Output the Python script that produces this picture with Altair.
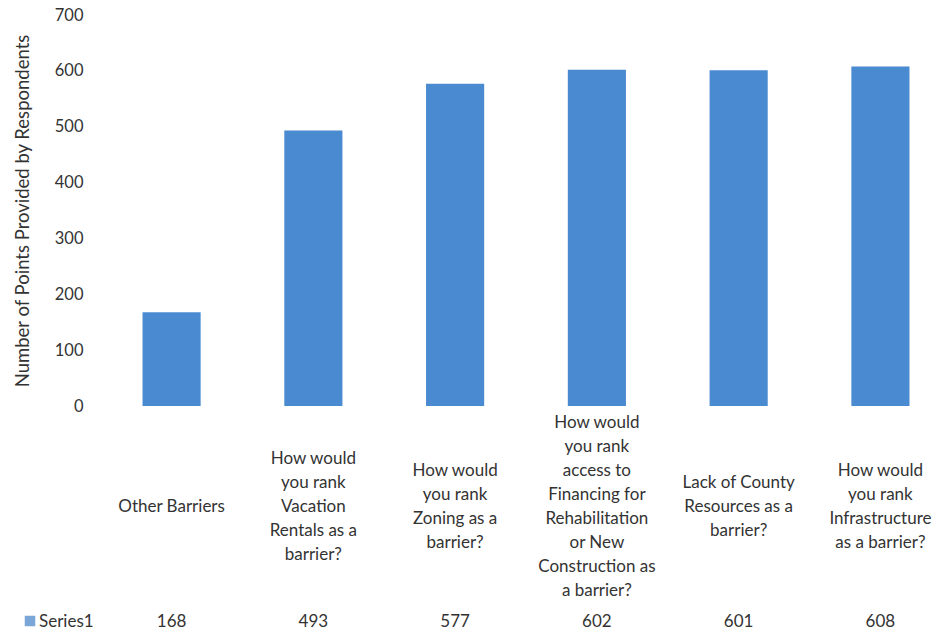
import altair as alt
import pandas as pd

categories = [
    "Other Barriers",
    "How would\nyou rank\nVacation\nRentals as a\nbarrier?",
    "How would\nyou rank\nZoning as a\nbarrier?",
    "How would\nyou rank\naccess to\nFinancing for\nRehabilitation\nor New\nConstruction as\na barrier?",
    "Lack of County\nResources as a\nbarrier?",
    "How would\nyou rank\nInfrastructure\nas a barrier?",
]
keys = ["c1", "c2", "c3", "c4", "c5", "c6"]
values = [168, 493, 577, 602, 601, 608]
series_name = "Series1"

df = pd.DataFrame({"key": keys, "label": categories, "value": values})

FONT = "Lato"
TXT = "#333333"
BAR = "#4a8ad0"
LH = 24

xscale = alt.Scale(domain=keys, paddingInner=0.59, paddingOuter=0.3)
x = alt.X("key:N", scale=xscale, axis=None, sort=keys)

bars = alt.Chart(df).mark_bar(color=BAR).encode(
    x=x,
    y=alt.Y(
        "value:Q",
        scale=alt.Scale(domain=[0, 700]),
        axis=alt.Axis(
            title="Number of Points  Provided by Respondents",
            values=[0, 100, 200, 300, 400, 500, 600, 700],
            grid=False, domain=False, ticks=False,
            labelPadding=17, labelFontSize=16.5, labelColor=TXT, labelFont=FONT,
            titleFontSize=18.5, titleColor=TXT, titleFont=FONT, titleFontWeight="normal",
            titlePadding=22,
        ),
    ),
)

cat_text = alt.Chart(df).transform_calculate(
    nlines="length(split(datum.label, '\\n'))"
).transform_calculate(
    ypos=f"492 - (datum.nlines - 1) * {LH / 2}"
).mark_text(
    font=FONT, fontSize=17, color=TXT, lineBreak="\n", lineHeight=LH,
    baseline="middle", align="center",
).encode(x=x, y=alt.Y("ypos:Q", scale=None, axis=None), text="label:N")

val_text = alt.Chart(df).mark_text(
    font=FONT, fontSize=17, color=TXT, baseline="middle", align="center",
).encode(x=x, y=alt.value(607), text="value:Q")

legend_df = pd.DataFrame({"s": [series_name]})
leg_sq = alt.Chart(legend_df).mark_square(color="#7aa6d8", size=110, opacity=1, filled=True).encode(
    x=alt.value(-70), y=alt.value(606)
)
leg_txt = alt.Chart(legend_df).mark_text(
    font=FONT, fontSize=17, color=TXT, align="left", baseline="middle"
).encode(x=alt.value(-61), y=alt.value(607), text="s:N")

chart = alt.layer(bars, cat_text, val_text, leg_sq, leg_txt).properties(
    width=852, height=391,
    autosize=alt.AutoSizeParams(type="none"),
    padding={"left": 100, "top": 15, "right": 0, "bottom": 229},
    background="white",
).configure_view(stroke=None)

chart.save("out.html", embed_options={"renderer": "svg", "actions": False})
